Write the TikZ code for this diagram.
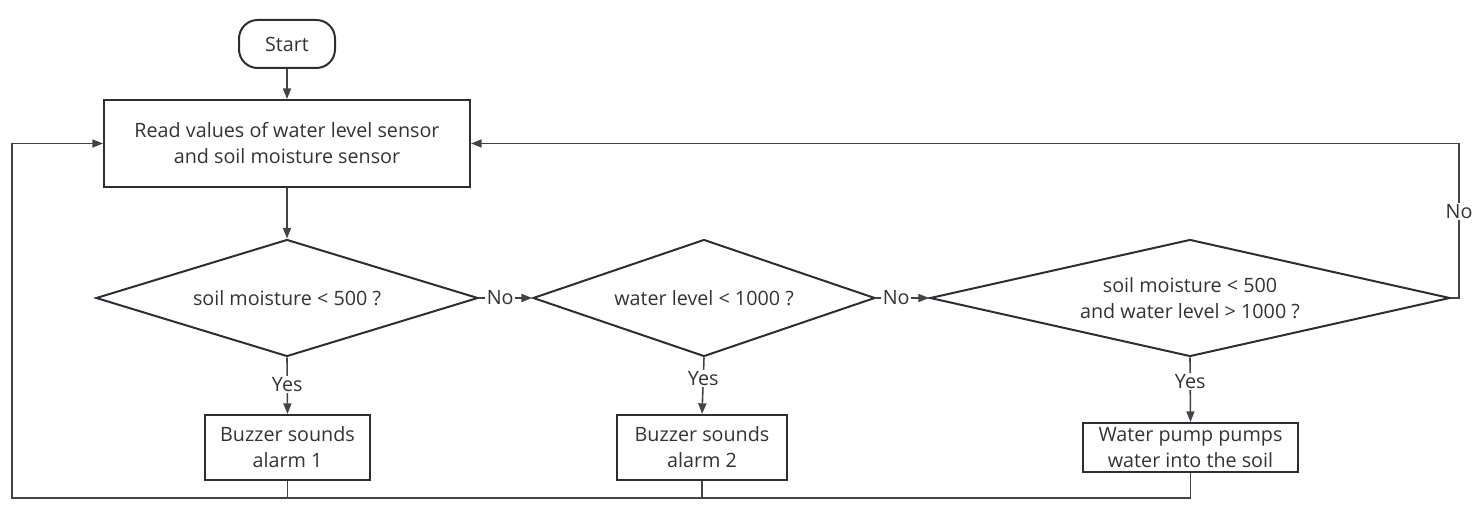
\documentclass[tikz,border=0pt]{standalone}
\usepackage{fontspec}
\setmainfont{Open Sans}
\usetikzlibrary{shapes.geometric,arrows.meta}
\definecolor{ink}{HTML}{2B2F33}
\definecolor{txt}{HTML}{333333}
\tikzset{
  every node/.style={text=txt, font=\fontsize{14.8}{19.5}\selectfont},
  proc/.style={draw=ink, line width=1.5pt, rectangle, align=center, inner sep=0pt},
  term/.style={draw=ink, line width=1.5pt, rectangle, rounded corners=14pt, align=center, inner sep=0pt},
  dec/.style={draw=ink, line width=1.5pt, diamond, align=center, inner sep=0pt},
  conn/.style={draw=ink!90, line width=1.2pt},
  arr/.style={conn, -{Triangle[length=8pt,width=6pt]}},
  lbl/.style={fill=white, inner sep=1pt},
}
\begin{document}
\begin{tikzpicture}[x=0.75pt,y=-0.75pt]
\useasboundingbox (0,0) rectangle (1480,516);
\node[term, minimum width=72pt, minimum height=36pt] (start) at (287,44) {Start};
\node[proc, minimum width=274.5pt, minimum height=65.25pt] (read) at (287,143.5) {Read values of water level sensor\\and soil moisture sensor};
\node[dec, minimum width=286.5pt, minimum height=87.75pt, aspect=3.26] (d1) at (287,298) {soil moisture < 500 ?};
\node[dec, minimum width=256.5pt, minimum height=87.75pt, aspect=2.92] (d2) at (704,298) {water level < 1000 ?};
\node[dec, minimum width=390pt, minimum height=87.75pt, aspect=4.44] (d3) at (1190,298) {soil moisture < 500\\and water level > 1000 ?};
\node[proc, minimum width=123.75pt, minimum height=48.75pt] (b1) at (287.5,447.5) {Buzzer sounds\\alarm 1};
\node[proc, minimum width=127.5pt, minimum height=48.75pt] (b2) at (702,447.5) {Buzzer sounds\\alarm 2};
\node[proc, minimum width=161.25pt, minimum height=36.75pt] (b3) at (1190.5,447.5) {Water pump pumps\\water into the soil};
\coordinate (bl) at (12,498);
\coordinate (rc) at (1459,298);
\draw[arr] (start) -- (read);
\draw[arr] (read) -- (d1);
\draw[arr] (d1.east) -- node[lbl, pos=0.4] {No} (d2.west);
\draw[arr] (d2.east) -- node[lbl, pos=0.38] {No} (d3.west);
\draw[arr] (d1.south) -- node[lbl, pos=0.47] {Yes} (b1.north);
\draw[arr] (d2.south) -- node[lbl, pos=0.38] {Yes} (b2.north);
\draw[arr] (d3.south) -- node[lbl, pos=0.37] {Yes} (b3.north);
\draw[arr] (b3.south) |- (bl) |- (read.west);
\draw[conn] (b1.south) -- (b1.south |- bl);
\draw[conn] (b2.south) -- (b2.south |- bl);
\draw[arr] (d3.east) -- (rc) |- node[lbl, pos=0.28] {No} (read.east);
\end{tikzpicture}
\end{document}
